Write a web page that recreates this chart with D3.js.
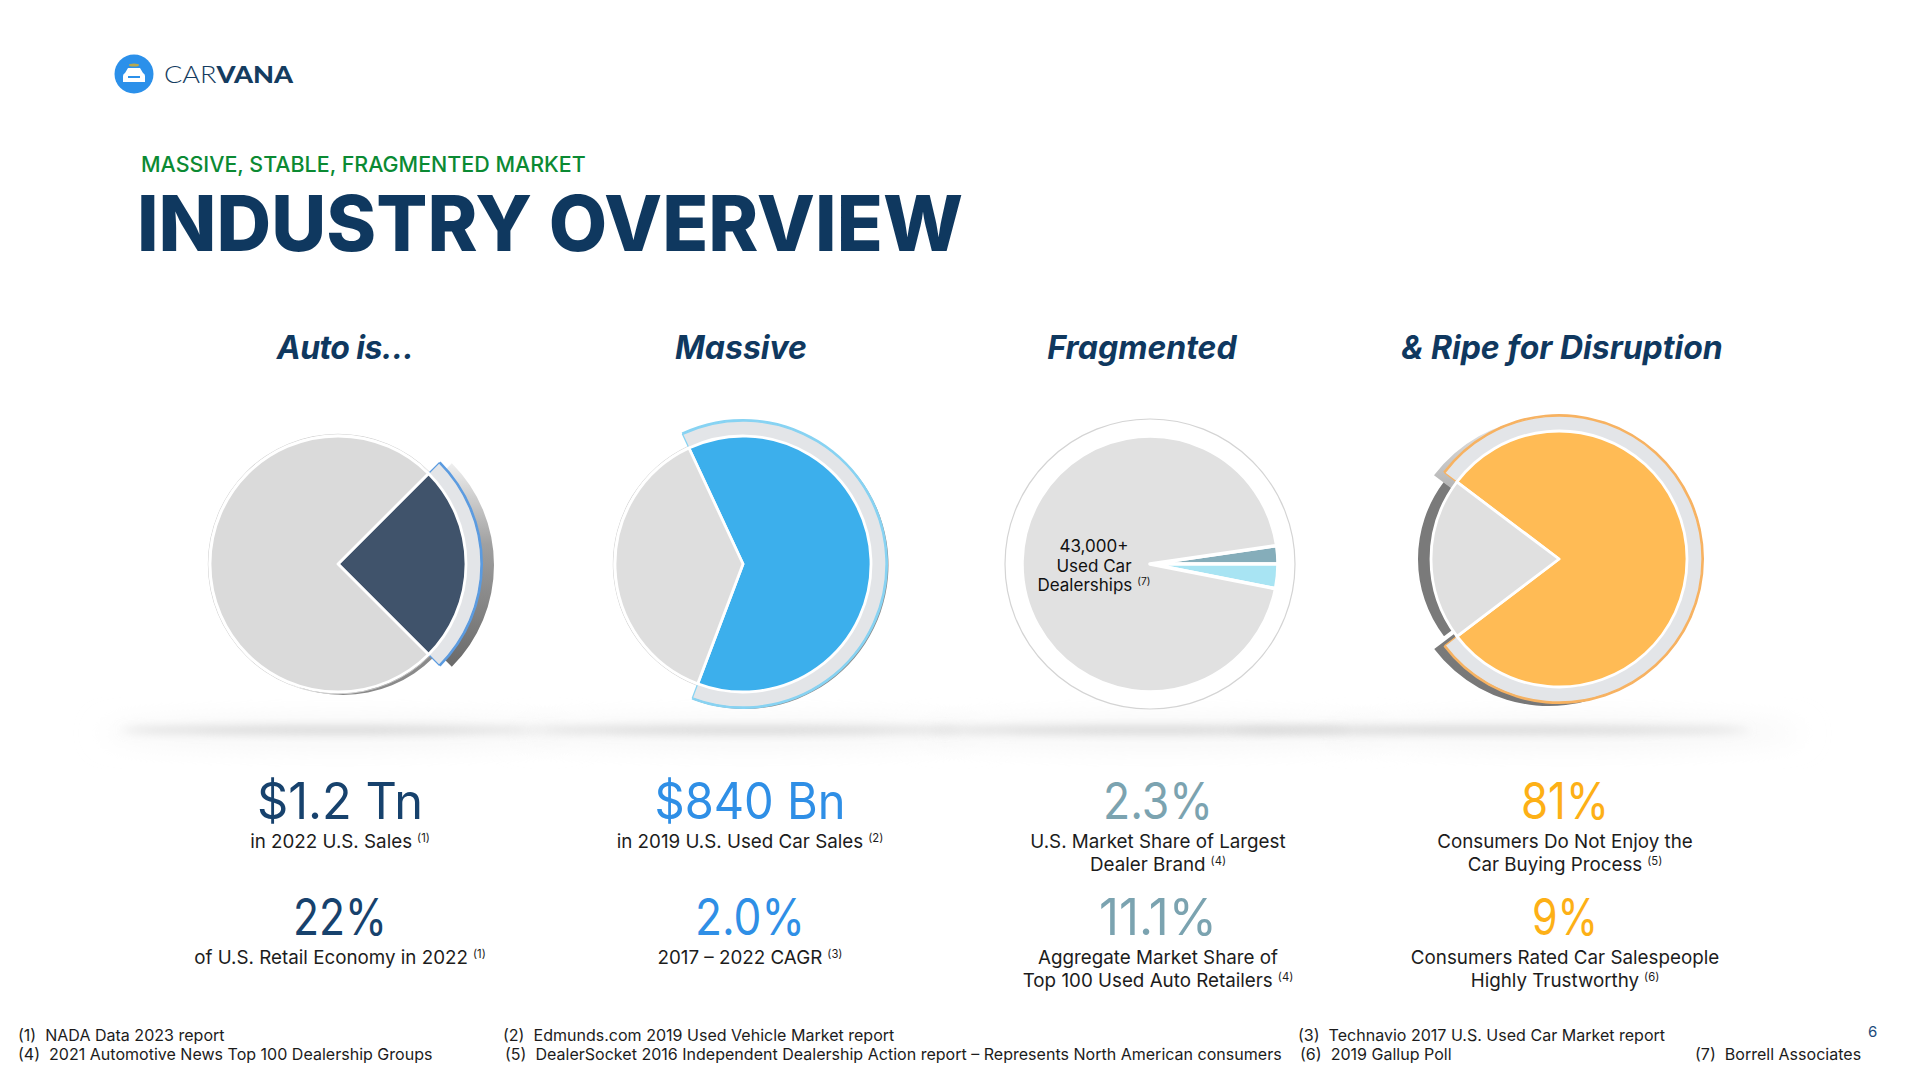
<!DOCTYPE html>
<html>
<head>
  <meta charset="utf-8">
  <title>Industry Overview</title>
  <script src="https://d3js.org/d3.v7.min.js"></script>
  <style>
    body { margin: 0; background: #fff; overflow: hidden; }
    text { font-family: Inter, "Noto Sans", sans-serif; }
  </style>
</head>
<body>
<script>
  // Data
  const headings = ["Auto is…", "Massive", "Fragmented", "& Ripe for Disruption"];
  const autoShares = [25, 75];
  const massiveShares = [62.7, 37.3];
  const fragmentedShares = [2.3, 3.1, 94.6];
  const disruptionShares = [79.4, 20.6];

  const topNumbers = ["$1.2 Tn", "$840 Bn", "2.3%", "81%"];
  const bottomNumbers = ["22%", "2.0%", "11.1%", "9%"];
  // each line is [text, footnote]
  const topLabels = [
    [["in 2022 U.S. Sales", "(1)"]],
    [["in 2019 U.S. Used Car Sales", "(2)"]],
    [["U.S. Market Share of Largest", ""], ["Dealer Brand", "(4)"]],
    [["Consumers Do Not Enjoy the", ""], ["Car Buying Process", "(5)"]]
  ];
  const bottomLabels = [
    [["of U.S. Retail Economy in 2022", "(1)"]],
    [["2017 – 2022 CAGR", "(3)"]],
    [["Aggregate Market Share of", ""], ["Top 100 Used Auto Retailers", "(4)"]],
    [["Consumers Rated Car Salespeople", ""], ["Highly Trustworthy", "(6)"]]
  ];
  const dealerLabel = [["43,000+", ""], ["Used Car", ""], ["Dealerships", "(7)"]];
  const footnotes = [
    ["(1)  NADA Data 2023 report", 18, 0],
    ["(2)  Edmunds.com 2019 Used Vehicle Market report", 503, 0],
    ["(3)  Technavio 2017 U.S. Used Car Market report", 1298, 0],
    ["(4)  2021 Automotive News Top 100 Dealership Groups", 18, 1],
    ["(5)  DealerSocket 2016 Independent Dealership Action report – Represents North American consumers", 505, 1],
    ["(6)  2019 Gallup Poll", 1300, 1],
    ["(7)  Borrell Associates", 1695, 1]
  ];

  const W = 1912, H = 1076;
  const navy = "#0f385f";
  const textCol = "#1c1c1c";
  const columns = [340, 750, 1158, 1565];
  const numberCols = ["#17426d", "#2f8fe6", "#7ba3b0", "#fdb016"];
  const headingX = [345, 741, 1142, 1562];
  // widths the big numbers take up in the slide
  const topWidths = [166, 191, 110, 88];
  const bottomWidths = [94, 110, 118, 66];

  const svg = d3.select("body").append("svg")
    .attr("width", W).attr("height", H)
    .style("display", "block");

  const defs = svg.append("defs");
  defs.append("filter").attr("id", "blur").attr("x", "-20%").attr("y", "-400%").attr("width", "140%").attr("height", "900%")
    .append("feGaussianBlur").attr("stdDeviation", 5);
  defs.append("filter").attr("id", "haze").attr("x", "-20%").attr("y", "-100%").attr("width", "140%").attr("height", "300%")
    .append("feGaussianBlur").attr("stdDeviation", 14);
  function shadowGrad(id, stops) {
    const g = defs.append("linearGradient").attr("id", id).attr("x1", 0).attr("y1", 0).attr("x2", 0).attr("y2", 1);
    stops.forEach(function (s) { g.append("stop").attr("offset", s[0]).attr("stop-color", s[1]); });
  }
  shadowGrad("sideShade", [[0, "#efefef"], [0.4, "#a0a0a0"], [1, "#6a6a6a"]]);
  shadowGrad("leftShade", [[0, "#e8e8e8"], [0.2, "#bdbdbd"], [0.5, "#7e7e7e"], [1, "#777"]]);

  // Floor shadow under the pies
  const floor = svg.append("g");
  columns.forEach(function (cx) {
    floor.append("ellipse").attr("cx", cx).attr("cy", 733).attr("rx", 240).attr("ry", 12)
      .attr("fill", "#f4f4f4").attr("filter", "url(#haze)");
  });
  [[330, 210], [745, 215], [1140, 210], [1490, 260]].forEach(function (f) {
    floor.append("ellipse").attr("cx", f[0]).attr("cy", 730).attr("rx", f[1]).attr("ry", 3)
      .attr("fill", "#cccccc").attr("filter", "url(#blur)");
  });

  // Logo
  const logo = svg.append("g");
  logo.append("circle").attr("cx", 134).attr("cy", 74).attr("r", 19.5).attr("fill", "#2b90ea");
  logo.append("ellipse").attr("cx", 134).attr("cy", 65).attr("rx", 5).attr("ry", 1.5).attr("fill", "#b8a84e");
  logo.append("path").attr("d", "M125 73 L128 68 H140 L143 73 Q145 74 145 76 V82 H123 V76 Q123 74 125 73 Z").attr("fill", "#fff");
  logo.append("rect").attr("x", 128).attr("y", 76).attr("width", 12).attr("height", 2).attr("fill", "#2b90ea");
  const logoText = svg.append("text").attr("x", 164).attr("y", 83)
    .attr("textLength", 129).attr("lengthAdjust", "spacingAndGlyphs")
    .style("font-family", "Lato, Inter, sans-serif").style("font-size", "23px").attr("fill", "#143c60");
  logoText.append("tspan").attr("font-weight", 300).text("CAR");
  logoText.append("tspan").attr("font-weight", 900).text("VANA");

  // Titles
  svg.append("text").attr("x", 141).attr("y", 172).attr("fill", "#0b8a33")
    .style("font-size", "21.45px").style("font-weight", 500).text("MASSIVE, STABLE, FRAGMENTED MARKET");
  svg.append("text").attr("x", 137).attr("y", 251).attr("fill", navy)
    .attr("textLength", 826).attr("lengthAdjust", "spacingAndGlyphs")
    .style("font-size", "77px").style("font-weight", 800).text("INDUSTRY OVERVIEW");

  svg.selectAll(".heading").data(headings).enter().append("text")
    .attr("class", "heading")
    .attr("x", function (d, i) { return headingX[i]; })
    .attr("y", 359)
    .attr("text-anchor", "middle")
    .attr("fill", navy)
    .style("font-size", "32px").style("font-weight", 700).style("font-style", "italic")
    .style("letter-spacing", function (d, i) { return i === 0 ? "-0.6px" : null; })
    .text(function (d) { return d; });

  // Pies
  const deg = Math.PI / 180;
  const sliceR = d3.scaleLinear().domain([0, 1]).range([0, 128]);
  const ringOuter = 143;

  const pies = [
    { cx: 338, cy: 564, values: autoShares, start: 45,
      fills: ["#40536b", "#dadada"], ring: [0], edge: "#5b9be0",
      shadows: [{ i: 1, dx: 5, dy: 3, outer: 128, fill: "#8a8a8a" }, { i: 0, dx: 12, dy: 1, outer: 144, fill: "url(#sideShade)" }] },
    { cx: 743, cy: 564, values: massiveShares, start: -25,
      fills: ["#3cafec", "#dedede"], ring: [0], edge: "#87d3f3",
      shadows: [{ i: 0, dx: 1.5, dy: 1, outer: 144, fill: "#8a8a8a" }] },
    { cx: 1150, cy: 564, values: fragmentedShares, start: 81.7,
      fills: ["#85adba", "#a8e4f3", "#e1e1e1"], ring: [], edge: "#ccc", shadows: [] },
    { cx: 1559, cy: 559, values: disruptionShares, start: -53,
      fills: ["#ffbb55", "#e0e0e0"], ring: [0], edge: "#f7b261",
      shadows: [{ i: 1, dx: -13, dy: 0, outer: 128, fill: "#7a7a7a" }, { i: 0, dx: -10, dy: 3, outer: 144, fill: "url(#leftShade)" }] }
  ];

  pies.forEach(function (p, n) {
    const slices = d3.pie().sort(null)
      .startAngle(p.start * deg)
      .endAngle((p.start + 360) * deg)(p.values);
    const g = svg.append("g").attr("transform", "translate(" + p.cx + "," + p.cy + ")");

    // extruded side first so it sits behind
    p.shadows.forEach(function (s) {
      g.append("path")
        .attr("transform", "translate(" + s.dx + "," + s.dy + ")")
        .attr("d", d3.arc().innerRadius(60).outerRadius(s.outer)(slices[s.i]))
        .attr("fill", s.fill);
    });

    // the middle pie is drawn with a full white rim
    if (n === 2) {
      g.append("circle").attr("r", 145).attr("fill", "#fff").attr("stroke", "#d4d4d4").attr("stroke-width", 1.2);
    }

    // fine grey line round the slices without a rim
    if (n === 0 || n === 1) {
      g.append("path")
        .attr("d", d3.arc().innerRadius(129.6).outerRadius(130.2)(slices[1]))
        .attr("fill", "#d2d2d2");
    }

    p.ring.forEach(function (i) {
      g.append("path")
        .attr("d", d3.arc().innerRadius(ringOuter).outerRadius(ringOuter + 2)(slices[i]))
        .attr("fill", p.edge);
      g.append("path")
        .attr("d", d3.arc().innerRadius(sliceR(1)).outerRadius(ringOuter)(slices[i]))
        .attr("fill", "#e3e5e8").attr("stroke", p.edge).attr("stroke-width", 1.3);
    });

    g.selectAll(".slice").data(slices).enter().append("path")
      .attr("class", "slice")
      .attr("d", d3.arc().innerRadius(0).outerRadius(sliceR(1)))
      .attr("fill", function (d, i) { return p.fills[i]; })
      .attr("stroke", "#fff")
      .attr("stroke-width", n === 2 ? 3.5 : 2.8)
      .attr("stroke-linejoin", "round");
  });

  // Labels with a small footnote mark
  function addLine(x, y, line, size, fill) {
    const t = svg.append("text").attr("x", x).attr("y", y)
      .attr("text-anchor", "middle").attr("fill", fill)
      .style("font-size", size + "px").text(line[0]);
    if (line[1]) {
      t.append("tspan").attr("dx", 5).attr("dy", -6)
        .style("font-size", size * 0.6 + "px").text(line[1]);
    }
  }

  dealerLabel.forEach(function (line, i) {
    addLine(1094, [552, 572, 591][i], line, 17, "#111");
  });

  function addNumber(x, y, txt, width, fill) {
    svg.append("text").attr("x", x).attr("y", y).attr("text-anchor", "middle")
      .attr("textLength", width).attr("lengthAdjust", "spacingAndGlyphs")
      .attr("fill", fill).style("font-size", "50px").text(txt);
  }

  columns.forEach(function (cx, i) {
    addNumber(cx, 819, topNumbers[i], topWidths[i], numberCols[i]);
    addNumber(cx, 935, bottomNumbers[i], bottomWidths[i], numberCols[i]);
    topLabels[i].forEach(function (line, j) {
      addLine(cx, 848 + j * 23, line, 18.8, textCol);
    });
    bottomLabels[i].forEach(function (line, j) {
      addLine(cx, 964 + j * 22.5, line, 18.8, textCol);
    });
  });

  // Footnotes
  svg.selectAll(".foot").data(footnotes).enter().append("text")
    .attr("class", "foot")
    .attr("x", function (d) { return d[1]; })
    .attr("y", function (d) { return 1041 + d[2] * 19; })
    .attr("fill", textCol)
    .attr("xml:space", "preserve")
    .style("white-space", "pre")
    .style("font-size", "16.05px")
    .text(function (d) { return d[0]; });

  svg.append("text").attr("x", 1868).attr("y", 1037).attr("fill", "#1c4a7a")
    .style("font-size", "15px").text("6");
</script>
</body>
</html>
